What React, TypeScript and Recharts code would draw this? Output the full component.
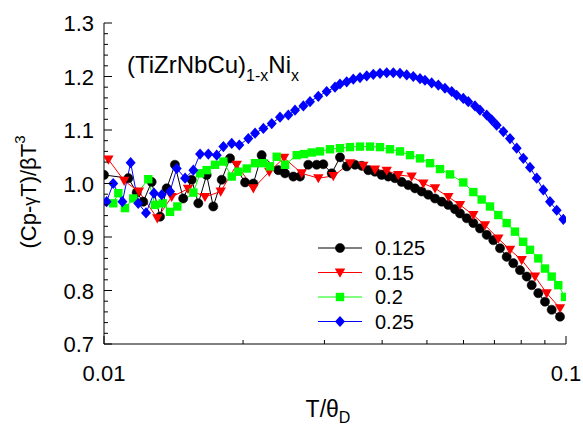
import React from 'react';
import { ComposedChart, Line, XAxis, YAxis, Legend } from 'recharts';

const FONT = 'Arial, "Liberation Sans", sans-serif';

// reduced temperature T/θD (log axis) and (Cp-γT)/βT³ for each Ni content x
const X_LABELS = ['0.125', '0.15', '0.2', '0.25'];

const T_0125 = [0.01, 0.01129, 0.01177, 0.01216, 0.01268, 0.01322, 0.01367, 0.01424, 0.01484, 0.01548, 0.016, 0.01668, 0.01724, 0.01798, 0.01874, 0.0202, 0.02105, 0.02194, 0.02384, 0.02465, 0.02569, 0.02656, 0.02768, 0.02886, 0.02983, 0.03111, 0.03242, 0.03352, 0.03494, 0.03612, 0.03733, 0.03859, 0.0399, 0.04124, 0.04264, 0.04409, 0.04557, 0.04712, 0.04872, 0.05035, 0.05206, 0.05382, 0.05563, 0.05751, 0.05897, 0.06097, 0.06301, 0.06514, 0.06735, 0.06961, 0.07197, 0.0744, 0.0769, 0.07951, 0.08221, 0.08428, 0.0871, 0.09005, 0.09311, 0.09705];
const C_0125 = [1.016, 1.01, 0.983, 0.966, 1.003, 0.938, 0.991, 1.035, 0.972, 1.007, 0.963, 1.016, 0.957, 1.007, 1.047, 1.002, 1.0, 1.053, 1.025, 1.019, 1.013, 1.013, 1.035, 1.035, 1.036, 1.019, 1.049, 1.032, 1.035, 1.033, 1.025, 1.022, 1.016, 1.013, 1.01, 1.003, 0.997, 0.991, 0.985, 0.979, 0.972, 0.966, 0.96, 0.952, 0.944, 0.935, 0.926, 0.916, 0.904, 0.894, 0.879, 0.863, 0.851, 0.838, 0.826, 0.81, 0.795, 0.779, 0.764, 0.751];

const T_015 = [0.01022, 0.01106, 0.0119, 0.01304, 0.01401, 0.0152, 0.01654, 0.01789, 0.01938, 0.02105, 0.02279, 0.02453, 0.02679, 0.0291, 0.03136, 0.03408, 0.03641, 0.03859, 0.04092, 0.04335, 0.04634, 0.04911, 0.05206, 0.05563, 0.05897, 0.06301, 0.06678, 0.07137, 0.07565, 0.08018, 0.08569, 0.09082, 0.09705];
const C_015 = [1.045, 1.005, 0.985, 0.935, 0.975, 0.99, 0.975, 0.985, 1.035, 0.991, 1.022, 1.048, 1.019, 1.01, 1.014, 1.038, 1.033, 1.026, 1.024, 1.016, 1.013, 1.0, 0.991, 0.975, 0.96, 0.941, 0.922, 0.897, 0.876, 0.857, 0.826, 0.795, 0.767];

const T_02 = [0.01047, 0.01074, 0.0111, 0.01157, 0.01247, 0.01289, 0.0134, 0.0139, 0.01441, 0.01561, 0.01614, 0.01668, 0.01739, 0.01813, 0.0189, 0.01953, 0.02037, 0.02123, 0.02213, 0.02287, 0.02365, 0.02465, 0.02613, 0.0271, 0.02816, 0.02935, 0.03084, 0.03242, 0.03408, 0.03582, 0.03765, 0.03957, 0.04159, 0.04372, 0.04596, 0.04831, 0.05078, 0.05337, 0.0561, 0.05994, 0.06301, 0.06569, 0.06847, 0.07137, 0.0744, 0.07754, 0.0808, 0.08357, 0.0871, 0.09005, 0.09311, 0.09623, 0.0995];
const C_02 = [0.963, 0.982, 0.954, 0.972, 1.008, 0.96, 0.963, 0.947, 0.957, 0.983, 1.019, 1.025, 1.035, 1.041, 1.013, 1.022, 1.028, 1.038, 1.038, 1.032, 1.05, 1.035, 1.053, 1.055, 1.058, 1.06, 1.064, 1.066, 1.068, 1.069, 1.069, 1.068, 1.064, 1.06, 1.053, 1.047, 1.038, 1.027, 1.017, 1.002, 0.984, 0.97, 0.957, 0.941, 0.926, 0.91, 0.891, 0.876, 0.86, 0.841, 0.826, 0.81, 0.788];

const T_025 = [0.01013, 0.01047, 0.01096, 0.01142, 0.01186, 0.01233, 0.01283, 0.01333, 0.0139, 0.01437, 0.01498, 0.01561, 0.01614, 0.01682, 0.01754, 0.01813, 0.0189, 0.01963, 0.02053, 0.02123, 0.02213, 0.02307, 0.02404, 0.02506, 0.02591, 0.02701, 0.02792, 0.0291, 0.03034, 0.03162, 0.03242, 0.03352, 0.03464, 0.03582, 0.03704, 0.03828, 0.03957, 0.04092, 0.04229, 0.04372, 0.04521, 0.04672, 0.04831, 0.04952, 0.0512, 0.05292, 0.05471, 0.05657, 0.058, 0.05994, 0.06145, 0.06353, 0.06514, 0.06735, 0.06905, 0.07079, 0.07317, 0.07565, 0.07821, 0.08083, 0.08357, 0.08641, 0.08931, 0.09234, 0.09547, 0.09867];
const C_025 = [0.966, 1.0, 0.966, 1.039, 0.963, 0.945, 0.982, 0.979, 0.985, 1.028, 1.01, 1.025, 1.055, 1.055, 1.053, 1.069, 1.075, 1.072, 1.084, 1.094, 1.103, 1.112, 1.124, 1.128, 1.137, 1.145, 1.153, 1.163, 1.172, 1.18, 1.186, 1.19, 1.195, 1.198, 1.201, 1.204, 1.206, 1.207, 1.207, 1.206, 1.203, 1.2, 1.196, 1.193, 1.188, 1.184, 1.178, 1.172, 1.165, 1.159, 1.153, 1.145, 1.137, 1.128, 1.119, 1.109, 1.097, 1.084, 1.066, 1.047, 1.03, 1.01, 0.988, 0.966, 0.95, 0.933];

// axis ticks: labelled majors plus unlabelled minors
const T_TICKS = [0.01, 0.02, 0.03, 0.04, 0.05, 0.06, 0.07, 0.08, 0.09, 0.1];
const T_MAJOR = [0.01, 0.1];
const C_TICKS = [0.7, 0.72, 0.74, 0.76, 0.78, 0.8, 0.82, 0.84, 0.86, 0.88, 0.9, 0.92, 0.94, 0.96, 0.98, 1.0, 1.02, 1.04, 1.06, 1.08, 1.1, 1.12, 1.14, 1.16, 1.18, 1.2, 1.22, 1.24, 1.26, 1.28, 1.3];

const zip = (ts: number[], cs: number[]) => ts.map((t, i) => ({ t, c: cs[i] }));

const SERIES = [
  { name: X_LABELS[0], data: zip(T_0125, C_0125), color: '#000000', shape: 'circle' },
  { name: X_LABELS[1], data: zip(T_015, C_015), color: '#ff0000', shape: 'triangle' },
  { name: X_LABELS[2], data: zip(T_02, C_02), color: '#00ff00', shape: 'square' },
  { name: X_LABELS[3], data: zip(T_025, C_025), color: '#0000ff', shape: 'diamond' },
];

const isMajorC = (v: number) => Math.abs(v * 10 - Math.round(v * 10)) < 1e-6;
const isMajorT = (v: number) => T_MAJOR.some((m) => Math.abs(m - v) < 1e-9);

const Marker = ({ shape, cx, cy, color }: { shape: string; cx: number; cy: number; color: string }) => {
  if (shape === 'circle') return <circle cx={cx} cy={cy} r={4.6} fill={color} stroke={color} strokeWidth={0.5} />;
  if (shape === 'triangle')
    return <polygon points={`${cx - 5.2},${cy - 4} ${cx + 5.2},${cy - 4} ${cx},${cy + 5.2}`} fill={color} />;
  if (shape === 'square') return <rect x={cx - 4.2} y={cy - 4.2} width={8.4} height={8.4} fill={color} />;
  return <polygon points={`${cx},${cy - 5.6} ${cx + 5},${cy} ${cx},${cy + 5.6} ${cx - 5},${cy}`} fill={color} />;
};

const makeDot = (shape: string, color: string) => (props: any) => {
  const { cx, cy, index } = props;
  if (cx == null || cy == null) return <g key={`d-${index}`} />;
  return (
    <g key={`d-${index}`}>
      <Marker shape={shape} cx={cx} cy={cy} color={color} />
    </g>
  );
};

// inward tick marks, labels only on the left/bottom axes
const LeftTick = ({ x, y, payload }: any) => {
  const v = payload.value;
  const major = isMajorC(v);
  return (
    <g>
      <line x1={x} x2={x + (major ? 8 : 4)} y1={y} y2={y} stroke="#000" strokeWidth={1} />
      {major && (
        <text x={x - 10} y={y + 8} textAnchor="end" fontSize={22} fontFamily={FONT} fill="#000">
          {v.toFixed(1)}
        </text>
      )}
    </g>
  );
};

const RightTick = ({ x, y, payload }: any) => {
  const major = isMajorC(payload.value);
  return <line x1={x} x2={x - (major ? 8 : 4)} y1={y} y2={y} stroke="#000" strokeWidth={1} />;
};

const BottomTick = ({ x, y, payload }: any) => {
  const v = payload.value;
  const major = isMajorT(v);
  return (
    <g>
      <line x1={x} x2={x} y1={y} y2={y - (major ? 8 : 4)} stroke="#000" strokeWidth={1} />
      {major && (
        <text x={x} y={y + 37} textAnchor="middle" fontSize={22} fontFamily={FONT} fill="#000">
          {String(v)}
        </text>
      )}
    </g>
  );
};

const TopTick = ({ x, y, payload }: any) => {
  const major = isMajorT(payload.value);
  return <line x1={x} x2={x} y1={y} y2={y + (major ? 8 : 4)} stroke="#000" strokeWidth={1} />;
};

const XTitle = () => (
  <text x={328} y={417} textAnchor="middle" fontSize={23} fontFamily={FONT} fill="#000">
    T/θ
    <tspan fontSize={16} dy={6}>D</tspan>
  </text>
);

const YTitle = () => {
  const cx = 28;
  const cy = 192;
  return (
    <text
      x={cx}
      y={cy}
      transform={`rotate(-90, ${cx}, ${cy})`}
      textAnchor="middle"
      dominantBaseline="central"
      fontSize={22}
      fontFamily={FONT}
      fill="#000"
    >
      (Cp-
      <tspan fontSize={18} dy={2}>γ</tspan>
      <tspan dy={-2}>T)/βT</tspan>
      <tspan fontSize={15} dy={-9}>3</tspan>
    </text>
  );
};

const LegendBox = () => (
  <svg width={140} height={100} style={{ display: 'block' }}>
    {SERIES.map((s, i) => {
      const cy = 12 + i * 24.5;
      return (
        <g key={s.name}>
          <line x1={8} x2={52} y1={cy} y2={cy} stroke={s.color} strokeWidth={1} />
          <Marker shape={s.shape} cx={30} cy={cy} color={s.color} />
          <text x={65} y={cy + 7} fontSize={20} fontFamily={FONT} fill="#000">
            {s.name}
          </text>
        </g>
      );
    })}
  </svg>
);

export default function App() {
  return (
    <div style={{ position: 'absolute', left: 0, top: 0, width: 583, height: 428, background: '#fff' }}>
      <ComposedChart width={583} height={428} margin={{ top: 23, right: 17, bottom: 0, left: 0 }}>
        <XAxis
          xAxisId="main"
          dataKey="t"
          type="number"
          scale="log"
          domain={[0.01, 0.1]}
          allowDataOverflow
          ticks={T_TICKS}
          interval={0}
          tickSize={0}
          tickMargin={0}
          tickLine={false}
          tick={<BottomTick />}
          height={84}
          axisLine={{ stroke: '#000', strokeWidth: 1 }}
          label={<XTitle />}
        />
        <XAxis
          xAxisId="top"
          orientation="top"
          dataKey="t"
          type="number"
          scale="log"
          domain={[0.01, 0.1]}
          allowDataOverflow
          ticks={T_TICKS}
          interval={0}
          tickSize={0}
          tickMargin={0}
          tickLine={false}
          tick={<TopTick />}
          height={0}
          axisLine={{ stroke: '#000', strokeWidth: 1 }}
        />
        <YAxis
          yAxisId="main"
          type="number"
          domain={[0.7, 1.3]}
          allowDataOverflow
          ticks={C_TICKS}
          interval={0}
          tickSize={0}
          tickMargin={0}
          tickLine={false}
          tick={<LeftTick />}
          width={104}
          axisLine={{ stroke: '#000', strokeWidth: 1 }}
          label={<YTitle />}
        />
        <YAxis
          yAxisId="right"
          orientation="right"
          type="number"
          domain={[0.7, 1.3]}
          allowDataOverflow
          ticks={C_TICKS}
          interval={0}
          tickSize={0}
          tickMargin={0}
          tickLine={false}
          tick={<RightTick />}
          width={0}
          axisLine={{ stroke: '#000', strokeWidth: 1 }}
        />
        <Legend
          layout="horizontal"
          verticalAlign="middle"
          align="center"
          wrapperStyle={{ position: 'absolute', left: 310, top: 236, width: 140, height: 100 }}
          content={() => <LegendBox />}
        />
        {SERIES.map((s) => (
          <Line
            key={s.name}
            xAxisId="main"
            yAxisId="main"
            data={s.data}
            dataKey="c"
            name={s.name}
            type="linear"
            stroke={s.color}
            strokeWidth={1}
            dot={makeDot(s.shape, s.color)}
            activeDot={false}
            isAnimationActive={false}
          />
        ))}
      </ComposedChart>
      <svg
        width={260}
        height={50}
        style={{ position: 'absolute', left: 120, top: 45, overflow: 'visible', pointerEvents: 'none' }}
      >
        <text x={7} y={28} fontSize={24} fontFamily={FONT} fill="#000">
          (TiZrNbCu)
          <tspan fontSize={16} dy={8}>1-x</tspan>
          <tspan dy={-8}>Ni</tspan>
          <tspan fontSize={16} dy={8}>x</tspan>
        </text>
      </svg>
    </div>
  );
}
